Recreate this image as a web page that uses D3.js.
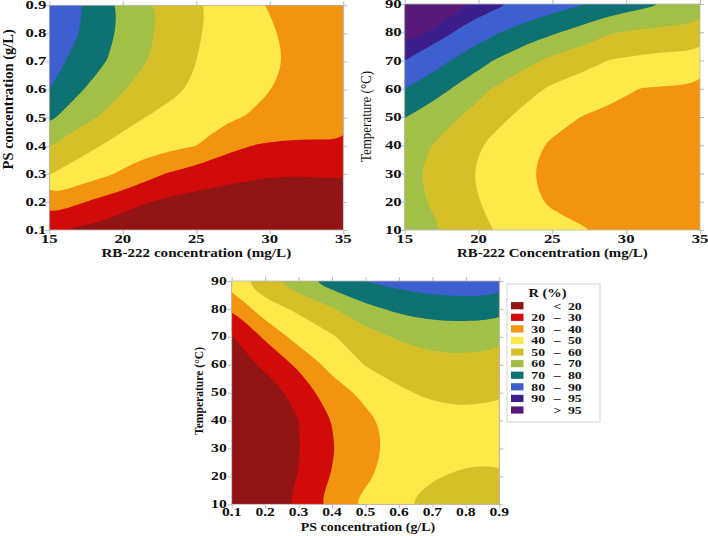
<!DOCTYPE html>
<html>
<head>
<meta charset="utf-8">
<script src="https://cdn.jsdelivr.net/npm/d3@7/dist/d3.min.js"></script>
<style>
  html, body { margin: 0; padding: 0; background: #fff; }
  svg { display: block; }
  text { font-family: "Liberation Serif", "Times New Roman", serif; fill: #111; }
</style>
</head>
<body>
<div id="chart"></div>
<script>
// R (%) class limits, fills from the lowest band up
var levels = [20, 30, 40, 50, 60, 70, 80, 90, 95];
var bandColors = ['#921515', '#d10a0a', '#f39410', '#ffe84a', '#d6c02a',
                  '#a2c048', '#0f7272', '#3e5fcf', '#3b1e8a', '#571a78'];
var legendLo  = ['',  '20', '30', '40', '50', '60', '70', '80', '90', ''];
var legendSep = ['<', '\u2013', '\u2013', '\u2013', '\u2013', '\u2013', '\u2013', '\u2013', '\u2013', '>'];
var legendHi  = ['20', '30', '40', '50', '60', '70', '80', '90', '95', '95'];

// grid the surfaces were read on
var rbConc = [15, 17, 19, 21, 23, 25, 27, 29, 31, 33, 35];     // mg/L
var psConc = [0.1, 0.2, 0.3, 0.4, 0.5, 0.6, 0.7, 0.8, 0.9];   // g/L
var temps  = [10, 20, 30, 40, 50, 60, 70, 80, 90];            // °C

// R (%), rows top -> bottom (highest y first)
var rPsVsRb = [
  [90,   81.3, 72.3, 64.4, 57.6, 51.5, 46.6, 41.5, 37.5, 34.5, 32.5],  // PS 0.9
  [87.5, 80,   72,   64,   57.3, 51,   46.3, 42.7, 39.2, 36.5, 34.5],  // 0.8
  [84,   77,   69.6, 62.2, 55.9, 50,   46.4, 43.1, 39.9, 37,   35  ],  // 0.7
  [80,   71.3, 64,   57.3, 52.4, 48.8, 45.3, 41.8, 38.8, 36.3, 34.5],  // 0.6
  [72,   63.8, 57.7, 50.9, 47.5, 44.6, 41.7, 38.9, 36.3, 34.3, 33  ],  // 0.5
  [60.4, 53.5, 48.7, 45.2, 42.8, 40,   32.8, 29.6, 28.5, 28.7, 29.3],  // 0.4
  [50.4, 45.8, 41.2, 35.5, 29.6, 25.7, 23.5, 21.5, 20.7, 20.8, 21.3],  // 0.3
  [37,   31,   26.5, 21.3, 18.2, 16.5, 15,   14,   13.5, 13.5, 14  ],  // 0.2
  [21.5, 18.6, 16,   13.5, 11.5, 10,   9,    8,    7.5,  7.5,  8   ]   // 0.1
];

var rTempVsRb = [
  [105,  100.5, 96,  92.3, 88.3, 84.5, 80.5, 76.5, 72.6, 69.5, 67  ],  // 90 °C
  [98,   94,   88,   81.5, 76,   71.3, 66.5, 60.5, 58.5, 57.2, 56.5],  // 80
  [90,   84,   76.5, 70,   63.5, 57.5, 53.5, 49.5, 47.8, 46.8, 46.3],  // 70
  [80,   74,   67,   59.5, 53.5, 48.5, 45.3, 42.5, 39.8, 39.2, 38.5],  // 60
  [70.3, 64.5, 59.3, 53,   47.8, 43.8, 39.8, 38,   37,   36.6, 36.5],  // 50
  [65.5, 59.5, 53.3, 48,   43.6, 38.5, 37.2, 36,   35.5, 35.3, 35.3],  // 40
  [62.5, 57.5, 51.5, 46.5, 41,   38,   36,   35,   34.3, 34,   34  ],  // 30
  [63.7, 58.8, 52.8, 47.5, 42.5, 38.8, 37,   35.8, 35,   34.6, 34.5],  // 20
  [66.5, 61.2, 55.5, 50,   46,   43,   40.6, 38.8, 37.5, 36.7, 36.3]   // 10
];

var rTempVsPs = [
  [46,   57,   67,   75,   80.2, 83.5, 85.5, 86.5, 86  ],  // 90 °C
  [30.2, 46,   51.5, 59,   67.5, 72,   74.5, 75,   74  ],  // 80
  [19.3, 31.5, 44,   49,   56,   61,   63.5, 64,   63  ],  // 70
  [16,   21.5, 32,   43,   50.5, 54.5, 57,   57.5, 56  ],  // 60
  [11,   15.5, 23,   36,   42,   48.5, 52,   53,   51  ],  // 50
  [8.5,  13.5, 20,   30.3, 38.3, 43,   45.5, 47,   47.5],  // 40
  [8,    13,   19.5, 29.2, 37.5, 42.5, 45.5, 47.3, 47.5],  // 30
  [9.5,  13.8, 20.3, 30.5, 38.5, 44.5, 49.2, 51.5, 51.5],  // 20
  [12,   15.5, 21.8, 35,   42.5, 49,   54,   56.5, 57  ]   // 10
];

var rbTicks   = [15, 20, 25, 30, 35];
var psTicks   = [0.1, 0.2, 0.3, 0.4, 0.5, 0.6, 0.7, 0.8, 0.9];
var tempTicks = [10, 20, 30, 40, 50, 60, 70, 80, 90];

(function () {
  'use strict';

  var TICK = '#b8b8b8';
  var W = 708, H = 536;

  var svg = d3.select('#chart').append('svg')
    .attr('width', W).attr('height', H)
    .attr('viewBox', '0 0 ' + W + ' ' + H);

  // text squeezed/stretched horizontally like the source image
  function label(parent, x, y, str, o) {
    return parent.append('text')
      .attr('transform', 'translate(' + x + ',' + y + ') scale(' + (o.sx || 1) + ',1)'
                        + (o.rotate ? ' rotate(-90)' : ''))
      .attr('text-anchor', o.anchor || 'middle')
      .attr('font-size', o.size)
      .attr('font-weight', o.weight || 'bold')
      .text(str);
  }

  function drawPanel(p) {
    var w = p.w, h = p.h;
    var nx = p.xs.length, ny = p.ys.length;

    var g = svg.append('g').attr('transform', 'translate(' + p.left + ',' + p.top + ')');

    var x = d3.scaleLinear().domain(d3.extent(p.xs)).range([0, w]);
    var y = d3.scaleLinear().domain(d3.extent(p.ys)).range([h, 0]);
    // d3.contours puts sample i at grid coordinate i + 0.5
    var gx = d3.scaleLinear().domain([0.5, nx - 0.5]).range([0, w]);
    var gy = d3.scaleLinear().domain([0.5, ny - 0.5]).range([0, h]);

    var clipId = 'clip-' + p.id;
    g.append('clipPath').attr('id', clipId)
      .append('rect').attr('width', w).attr('height', h);

    var body = g.append('g').attr('clip-path', 'url(#' + clipId + ')');
    body.append('rect').attr('width', w).attr('height', h).attr('fill', bandColors[0]);

    var bands = d3.contours().size([nx, ny]).thresholds(levels)(d3.merge(p.grid));

    // B-spline through the marching-squares rings to round off grid kinks
    var ring = d3.line()
      .x(function (pt) { return gx(pt[0]); })
      .y(function (pt) { return gy(pt[1]); })
      .curve(d3.curveBasisClosed);

    body.selectAll('path.band').data(bands).join('path')
      .attr('class', 'band')
      .attr('fill', function (c, i) { return bandColors[i + 1]; })
      .attr('fill-rule', 'evenodd')
      .attr('d', function (c) {
        return c.coordinates.map(function (poly) {
          return poly.map(function (r) { return ring(r.slice(0, -1)); }).join('');
        }).join('');
      });

    // frame + outward ticks on all four sides
    g.append('rect').attr('width', w).attr('height', h)
      .attr('fill', 'none').attr('stroke', TICK).attr('stroke-width', 0.8);

    var axes = [
      [d3.axisBottom(x).tickValues(p.xTicks), 'translate(0,' + h + ')'],
      [d3.axisTop(x).tickValues(p.xTicks), null],
      [d3.axisLeft(y).tickValues(p.yTicks), null],
      [d3.axisRight(y).tickValues(p.yTicks), 'translate(' + w + ',0)']
    ];
    axes.forEach(function (a) {
      var ax = g.append('g');
      if (a[1]) ax.attr('transform', a[1]);
      ax.call(a[0].tickSize(4).tickSizeOuter(0).tickFormat(''))
        .call(function (s) { s.select('.domain').remove(); })
        .call(function (s) { s.selectAll('.tick line').attr('stroke', TICK); });
    });

    // tick labels
    p.xTicks.forEach(function (v) {
      label(g, x(v), h + p.xLabDy, p.fmtX(v), { size: p.tickSize, sx: p.tickSx });
    });
    p.yTicks.forEach(function (v) {
      label(g, -p.yLabDx, y(v) + p.tickSize * p.yLabShift, p.fmtY(v),
            { size: p.tickSize, sx: p.tickSx, anchor: 'end' });
    });

    // axis titles
    label(g, w / 2 + (p.xTitleDx || 0), h + 27, p.xTitle, { size: 13.5, sx: p.xTitleSx });
    label(g, p.yTitleX, p.yTitleY, p.yTitle,
          { size: p.yTitleSize, sx: p.yTitleSx, weight: p.yTitleWeight, rotate: true });
  }

  var fmt1 = d3.format('.1f');
  var fmt0 = d3.format('d');

  drawPanel({
    id: 'ps-rb', left: 49.3, top: 5.3, w: 294, h: 224.7,
    xs: rbConc, ys: psConc, grid: rPsVsRb,
    xTicks: rbTicks, yTicks: psTicks, fmtX: fmt0, fmtY: fmt1,
    tickSize: 11.5, tickSx: 1.45, xLabDy: 13, yLabDx: 3, yLabShift: 0.34,
    xTitle: 'RB-222 concentration (mg/L)', xTitleSx: 1.12,
    yTitle: 'PS concentration (g/L)', yTitleSize: 14.5, yTitleSx: 1, yTitleWeight: 'bold',
    yTitleX: -36.8, yTitleY: 94
  });

  drawPanel({
    id: 't-rb', left: 404.7, top: 4, w: 295.3, h: 226,
    xs: rbConc, ys: temps, grid: rTempVsRb,
    xTicks: rbTicks, yTicks: tempTicks, fmtX: fmt0, fmtY: fmt0,
    tickSize: 11.5, tickSx: 1.45, xLabDy: 13, yLabDx: 3, yLabShift: 0.36,
    xTitle: 'RB-222 Concentration (mg/L)', xTitleSx: 1.1,
    yTitle: 'Temperature (\u00b0C)', yTitleSize: 13, yTitleSx: 1.05, yTitleWeight: 'normal',
    yTitleX: -33.5, yTitleY: 112.5
  });

  drawPanel({
    id: 't-ps', left: 231.7, top: 281, w: 267.6, h: 223.3,
    xs: psConc, ys: temps, grid: rTempVsPs,
    xTicks: psTicks, yTicks: tempTicks, fmtX: fmt1, fmtY: fmt0,
    tickSize: 12, tickSx: 1.3, xLabDy: 12, yLabDx: 5, yLabShift: 0.3,
    xTitle: 'PS concentration (g/L)', xTitleSx: 1.03, xTitleDx: 2.5,
    yTitle: 'Temperature (\u00b0C)', yTitleSize: 11.6, yTitleSx: 1.15, yTitleWeight: 'bold',
    yTitleX: -28.7, yTitleY: 110
  });

  // legend
  var lg = svg.append('g').attr('transform', 'translate(507,284)');
  lg.append('rect').attr('width', 93).attr('height', 138)
    .attr('fill', '#fff').attr('stroke', '#d4d4d4').attr('stroke-width', 1);
  label(lg, 40.5, 13, 'R (%)', { size: 12, sx: 1.2 });

  var rowY = d3.scaleLinear().domain([0, 9]).range([21.7, 126]);
  bandColors.forEach(function (c, i) {
    var cy = rowY(i);
    lg.append('rect')
      .attr('x', 4).attr('y', cy - 3.6).attr('width', 12.5).attr('height', 7.2)
      .attr('fill', c);
    var o = { size: 11, sx: 1.25 };
    if (legendLo[i]) label(lg, 38, cy + 3.8, legendLo[i], Object.assign({ anchor: 'end' }, o));
    label(lg, 50.3, cy + 3.8, legendSep[i], o);
    label(lg, 74.7, cy + 3.8, legendHi[i], Object.assign({ anchor: 'end' }, o));
  });
}());
</script>
</body>
</html>
